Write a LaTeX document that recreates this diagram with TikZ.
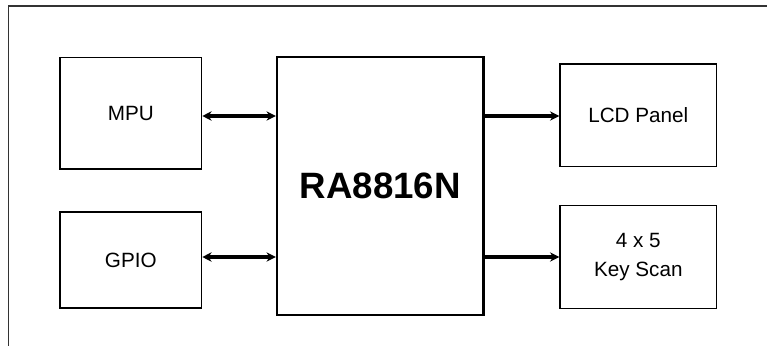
\documentclass[tikz,border=0pt]{standalone}
\usepackage{fontspec}
\setmainfont{Liberation Sans}
\usetikzlibrary{arrows.meta}
\begin{document}
\begin{tikzpicture}[x=0.75pt,y=-0.75pt,
  blk/.style={draw=black,line width=0.9pt,fill=white,inner sep=0pt,align=center,
    font=\fontsize{15.5}{21.5}\selectfont},
  chip/.style={draw=black,line width=1.6pt,inner sep=0pt,
    font=\bfseries\fontsize{27.5}{30}\selectfont},
  link/.style={line width=2.4pt,-{Stealth[length=7pt,width=7pt]}},
  blink/.style={line width=2.4pt,{Stealth[length=7pt,width=7pt]}-{Stealth[length=7pt,width=7pt]}}]
\useasboundingbox (0,0) rectangle (767,346);
\draw[line width=1pt,color=black!80] (8.5,346) -- (8.5,6) -- (767,6);
\node[blk,minimum width=106.3pt,minimum height=83.8pt] (mpu) at (130.8,113.2) {MPU};
\node[blk,minimum width=106.3pt,minimum height=72pt] (gpio) at (130.8,260) {GPIO};
\node[chip,minimum width=154.9pt,minimum height=193.5pt] (chip) at (380.2,186) {RA8816N};
\node[blk,minimum width=117.5pt,minimum height=77pt] (lcd) at (638.3,115.3) {LCD Panel};
\node[blk,minimum width=117.5pt,minimum height=77.25pt] (key) at (638.3,256.8) {4 x 5\\Key Scan};
\draw[blink] (mpu.east |- 0,116) -- (chip.west |- 0,116);
\draw[blink] (gpio.east |- 0,257) -- (chip.west |- 0,257);
\draw[link] (chip.east |- 0,116) -- (lcd.west |- 0,116);
\draw[link] (chip.east |- 0,257) -- (key.west |- 0,257);
\end{tikzpicture}
\end{document}
